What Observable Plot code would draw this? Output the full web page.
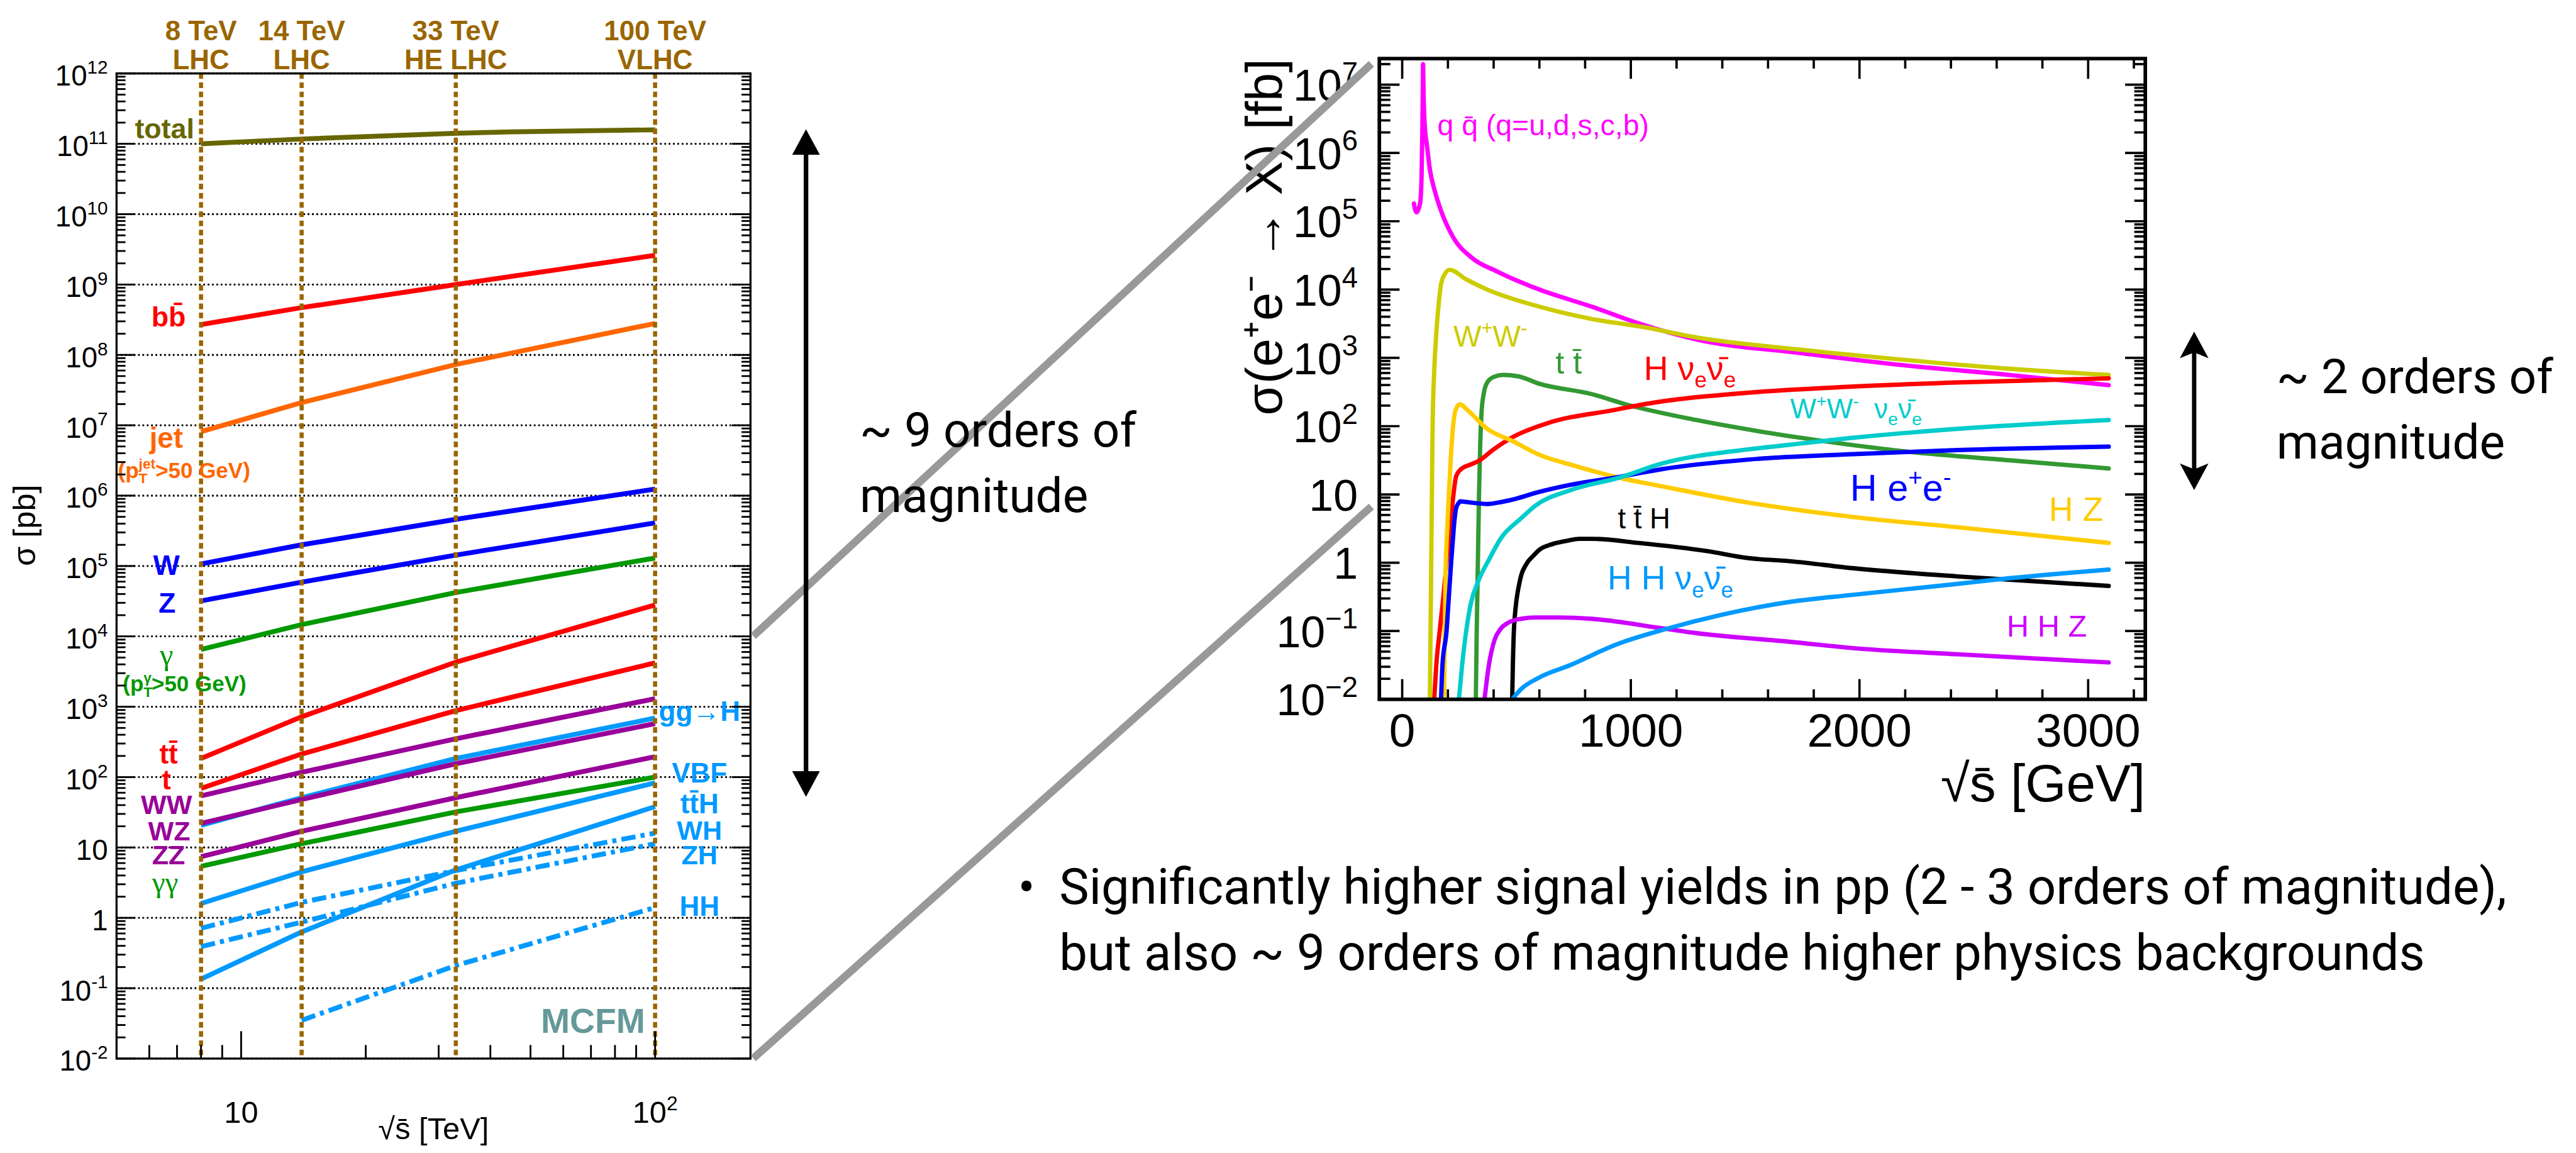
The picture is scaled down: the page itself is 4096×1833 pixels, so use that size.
<!DOCTYPE html>
<html>
<head>
<meta charset="utf-8">
<script src="https://cdn.jsdelivr.net/npm/d3@7"></script>
<script src="https://cdn.jsdelivr.net/npm/@observablehq/plot@0.6"></script>
<style>
html,body{margin:0;padding:0;background:#fff;}
#stage{position:relative;width:4096px;height:1833px;overflow:hidden;background:#fff;}
#stage > svg{position:absolute;left:0;top:0;}
</style>
</head>
<body>
<div id="stage"></div>
<script>
// ================= DATA: pp collisions (left panel), sigma in pb vs sqrt(s) in TeV =================
const energiesTeV = [8, 14, 33, 100];
const totalEnergiesTeV = [8, 14, 33, 45, 100];
const hhEnergiesTeV = [14, 33, 100];
const xsTotal = [1.0e11, 1.17e11, 1.41e11, 1.48e11, 1.58e11];
const xsBB = [2.7e8, 4.7e8, 1.0e9, 2.6e9];
const xsJet = [8.1e6, 2.1e7, 7.3e7, 2.8e8];
const xsW = [1.07e5, 2.0e5, 4.6e5, 1.24e6];
const xsZ = [3.2e4, 5.9e4, 1.43e5, 4.1e5];
const xsGamma = [6.5e3, 1.47e4, 4.2e4, 1.3e5];
const xsTT = [184, 720, 4.3e3, 2.8e4];
const xsT = [69, 213, 880, 4.2e3];
const xsWW = [54, 117, 351, 1.3e3];
const xsGGH = [20.7, 51, 184, 690];
const xsWZ = [22, 48, 155, 576];
const xsZZ = [7.4, 17, 51, 195];
const xsGamGam = [5.4, 11.3, 32, 100];
const xsVBF = [1.6, 4.5, 17, 83];
const xsTTH = [0.135, 0.63, 4.8, 38];
const xsWH = [0.71, 1.66, 4.7, 16];
const xsZH = [0.39, 0.87, 3.1, 11.3];
const xsHH = [0.035, 0.21, 1.4];

const ppDecadeTicks = [1e-2, 1e-1, 1, 10, 1e2, 1e3, 1e4, 1e5, 1e6, 1e7, 1e8, 1e9, 1e10, 1e11, 1e12];
const ppMajorXTicks = [10, 100];
const ppMinorXTicks = [6, 7, 8, 9, 20, 30, 40, 50, 60, 70, 80, 90];
const colliderLine1 = ["8 TeV", "14 TeV", "33 TeV", "100 TeV"];
const colliderLine2 = ["LHC", "LHC", "HE LHC", "VLHC"];

const ppLabelText = ["total", "bb\u0304", "jet", "(p_{T}^{jet}>50 GeV)", "W", "Z", "γ", "(p_{T}^{γ}>50 GeV)",
  "tt\u0304", "t", "WW", "WZ", "ZZ", "γγ", "gg→H", "VBF", "tt\u0304H", "WH", "ZH", "HH", "MCFM"];
const ppLabelX = [6.53, 6.68, 6.59, 7.28, 6.6, 6.62, 6.6, 7.3, 6.68, 6.6, 6.6, 6.7, 6.68, 6.55, 128, 128, 128, 128, 128, 128, 70.8];
const ppLabelY = [1.61e11, 3.39e8, 6.5e6, 2.24e6, 1e5, 2.9e4, 5.4e3, 2.07e3, 209, 90, 40, 16.7, 7.6, 3.2, 850, 112, 41, 17.2, 7.6, 1.43, 0.0336];

// ================= DATA: e+e- collisions (right panel), sigma in fb vs sqrt(s) in GeV =================
const eeQQx = [51, 62, 79, 85, 88, 90, 91, 94, 98, 109, 121, 143, 166, 224, 303, 418, 600, 829, 1057, 1286, 1742, 2199, 2656, 3090];
const eeQQy = [1.82e5, 1.35e5, 1.9e5, 5.0e5, 2.0e6, 7.9e6, 2.0e7, 6.3e6, 2.75e6, 1.23e6, 5.75e5, 2.75e5, 1.55e5, 5.75e4, 2.95e4, 1.82e4, 1.0e4, 5623, 3020, 1862, 1175, 776, 562, 398];
const eeWWx = [121, 127, 133, 140, 150, 160, 170, 189, 207, 280, 372, 600, 829, 1057, 1286, 1742, 2199, 2656, 3090];
const eeWWy = [0.01, 1, 100, 631, 2512, 6310, 1.2e4, 1.74e4, 1.95e4, 1.41e4, 1.0e4, 5623, 3715, 2818, 1995, 1318, 933, 692, 562];
const eeTTx = [322, 326, 331, 336, 341, 347, 358, 372, 400, 440, 507, 600, 829, 977, 1286, 1742, 2199, 2656, 3090];
const eeTTy = [0.01, 0.1, 1, 10, 50.1, 158, 316, 437, 525, 562, 537, 417, 295, 209, 123, 67.6, 42.7, 31.6, 24.0];
const eeHnnx = [140, 149, 164, 180, 194, 210, 224, 234, 244, 254, 300, 334, 400, 484, 634, 934, 1057, 1514, 1971, 2428, 3090];
const eeHnny = [0.01, 0.0316, 0.1, 0.316, 1, 3.16, 9.77, 17.4, 20.9, 22.9, 27.5, 30.9, 45.7, 69.2, 110, 174, 209, 309, 380, 437, 501];
const eeHZx = [183, 189, 197, 204, 212, 220, 234, 253, 284, 372, 484, 600, 734, 954, 1133, 1514, 1971, 2428, 3090];
const eeHZy = [0.01, 0.55, 3.16, 9.77, 31.6, 79.4, 174, 209, 174, 91.2, 60.3, 38.0, 27.5, 17.4, 13.2, 7.59, 4.68, 3.31, 1.95];
const eeHeex = [170, 176, 194, 204, 214, 222, 228, 236, 246, 254, 280, 374, 434, 500, 590, 734, 954, 1133, 1514, 1971, 2428, 3090];
const eeHeey = [0.01, 0.0316, 0.1, 0.316, 1, 2.24, 3.98, 6.31, 7.41, 7.94, 7.76, 7.24, 7.76, 8.71, 10.7, 13.8, 18.2, 23.4, 32.4, 38.9, 44.7, 50.1];
const eeWWnnx = [248, 262, 280, 300, 334, 380, 434, 520, 584, 734, 954, 1133, 1514, 1702, 1971, 2428, 3090];
const eeWWnny = [0.01, 0.0316, 0.1, 0.251, 0.55, 1.12, 2.34, 4.47, 6.92, 11.5, 17.8, 28.2, 45.7, 53.7, 67.6, 91.2, 123];
const eeTTHx = [481, 484, 490, 515, 543, 573, 600, 654, 720, 774, 830, 1034, 1334, 1514, 1702, 1971, 2428, 3090];
const eeTTHy = [0.01, 0.0316, 0.126, 0.55, 0.955, 1.26, 1.55, 1.86, 2.09, 2.24, 2.24, 1.95, 1.48, 1.17, 1.05, 0.832, 0.631, 0.457];
const eeHHZx = [360, 379, 404, 430, 463, 520, 584, 684, 829, 1133, 1286, 1702, 1971, 2428, 3090];
const eeHHZy = [0.01, 0.0316, 0.0741, 0.107, 0.132, 0.151, 0.158, 0.158, 0.151, 0.110, 0.0933, 0.0692, 0.0562, 0.0457, 0.0347];
const eeHHnnx = [481, 520, 600, 734, 934, 1153, 1400, 1702, 1971, 2428, 2589, 3090];
const eeHHnny = [0.01, 0.0141, 0.0209, 0.0316, 0.0631, 0.107, 0.174, 0.269, 0.339, 0.490, 0.562, 0.794];

const eeDecadeTicks = [1e-2, 1e-1, 1, 10, 1e2, 1e3, 1e4, 1e5, 1e6, 1e7];
const eeMajorXTicks = [0, 1000, 2000, 3000];
const eeMinorXTicks = [200, 400, 600, 800, 1200, 1400, 1600, 1800, 2200, 2400, 2600, 2800, 3200];

const eeLabelText = ["q q\u0304 (q=u,d,s,c,b)", "W^{+}W^{-}", "t t\u0304", "H ν_{e}ν\u0304_{e}", "W^{+}W^{-}  ν_{e}ν\u0304_{e}",
  "H e^{+}e^{-}", "H Z", "t t\u0304 H", "H H ν_{e}ν\u0304_{e}", "H H Z"];
const eeLabelX = [154, 224, 670, 1057, 1697, 1959, 2828, 943, 898, 2644];
const eeLabelY = [2.5e6, 2.0e3, 830, 690, 174, 12, 5.9, 4.3, 0.58, 0.115];

// connectors and arrows (values on the two y scales)
const connectorFromPb = [1e4, 1e-2];
const connectorToFb = [2.0e7, 6.6];
const ppArrowRange = [1.6e11, 52];
const eeArrowRange = [2.4e3, 11.5];

// ================= STYLES =================
const W = 5034, H = 2253;
const SANS = "'Liberation Sans', Arial, Helvetica, sans-serif";
const SERIF = "'Liberation Serif', 'Times New Roman', serif";
const SLIDE = "Roboto, 'Open Sans', sans-serif";

const ppSeries = [
  ["total", totalEnergiesTeV, xsTotal], ["bb", energiesTeV, xsBB], ["jet", energiesTeV, xsJet],
  ["W", energiesTeV, xsW], ["Z", energiesTeV, xsZ], ["gamma", energiesTeV, xsGamma],
  ["tt", energiesTeV, xsTT], ["t", energiesTeV, xsT], ["WW", energiesTeV, xsWW],
  ["ggH", energiesTeV, xsGGH], ["WZ", energiesTeV, xsWZ], ["ZZ", energiesTeV, xsZZ],
  ["gamgam", energiesTeV, xsGamGam], ["VBF", energiesTeV, xsVBF], ["ttH", energiesTeV, xsTTH],
  ["WH", energiesTeV, xsWH], ["ZH", energiesTeV, xsZH], ["HH", hhEnergiesTeV, xsHH]
];
const ppColor = {total: "#666600", bb: "#ff0000", jet: "#ff6600", W: "#0000ff", Z: "#0000ff", gamma: "#009900",
  tt: "#ff0000", t: "#ff0000", WW: "#990099", ggH: "#0099ff", WZ: "#990099", ZZ: "#990099", gamgam: "#009900",
  VBF: "#0099ff", ttH: "#0099ff", WH: "#0099ff", ZH: "#0099ff", HH: "#0099ff"};
const ppDash = {WH: "28,10,8,10", ZH: "28,10,8,10", HH: "28,10,8,10"};

const ppLabelColor = ["#666600", "#ff0000", "#ff6600", "#ff6600", "#0000ff", "#0000ff", "#009900", "#009900",
  "#ff0000", "#ff0000", "#990099", "#990099", "#990099", "#009900", "#0099ff", "#0099ff", "#0099ff", "#0099ff", "#0099ff", "#0099ff", "#669999"];
const ppLabelSize = [55, 55, 56, 43, 55, 55, 60, 43, 54, 54, 53, 53, 53, 58, 54, 54, 54, 53, 53, 54, 68];
const ppLabelFont = ppLabelText.map(t => t === "γ" || t === "γγ" ? SERIF : SANS);
const ppLabelWeight = ppLabelText.map(t => t === "γ" || t === "γγ" ? "normal" : "bold");

const eeSeries = [
  ["qq", eeQQx, eeQQy], ["WW", eeWWx, eeWWy], ["tt", eeTTx, eeTTy], ["Hnn", eeHnnx, eeHnny],
  ["HZ", eeHZx, eeHZy], ["Hee", eeHeex, eeHeey], ["WWnn", eeWWnnx, eeWWnny], ["ttH", eeTTHx, eeTTHy],
  ["HHZ", eeHHZx, eeHHZy], ["HHnn", eeHHnnx, eeHHnny]
];
const eeColor = {qq: "#ff00ff", WW: "#cccc00", tt: "#339933", Hnn: "#ff0000", HZ: "#ffcc00", Hee: "#0000ff",
  WWnn: "#00cccc", ttH: "#000000", HHZ: "#cc00ff", HHnn: "#0099ff"};
const eeLabelColor = ["#ff00ff", "#cccc00", "#339933", "#ff0000", "#00cccc", "#0000ff", "#ffcc00", "#000000", "#0099ff", "#cc00ff"];
const eeLabelSize = [57, 58, 62, 66, 54, 73, 66, 56, 66, 60];

// ================= HELPERS =================
function powerLabel(v, minus) {
  const e = Math.round(Math.log10(v));
  if (e === 0) return "1";
  if (e === 1) return "10";
  return "10^{" + (e < 0 ? minus + (-e) : e) + "}";
}
function minorLogTicks(decades, lo, hi) {
  const out = [];
  decades.forEach(d => { for (let k = 2; k <= 9; k++) { const v = k * d; if (v > lo && v < hi) out.push(v); } });
  return out;
}
function rows(xs, ys) { return xs.map((x, i) => ({x, y: ys[i]})); }

// simple markup -> tspans: ^{sup}, _{sub}
function richify(root) {
  root.querySelectorAll("text").forEach(t => {
    const raw = t.textContent;
    if (!/(\^|_)\{/.test(raw)) return;
    const fs = parseFloat(getComputedStyle(t).fontSize) || 10;
    while (t.firstChild) t.removeChild(t.firstChild);
    const re = /(\^|_)\{([^}]*)\}/g;
    let cur = 0, last = 0, m, prevSub = null;
    const add = (str, kind) => {
      if (!str) return;
      const ts = document.createElementNS("http://www.w3.org/2000/svg", "tspan");
      let target = 0;
      if (kind === "^") { target = -0.42 * fs; ts.setAttribute("font-size", 0.65 * fs); }
      else if (kind === "_") { target = 0.24 * fs; ts.setAttribute("font-size", 0.65 * fs); }
      const dy = target - cur;
      if (dy) ts.setAttribute("dy", dy);
      cur = target;
      ts.textContent = str;
      t.appendChild(ts);
      if (kind === "^" && prevSub) ts.setAttribute("dx", -prevSub.getComputedTextLength());
      prevSub = kind === "_" ? ts : null;
    };
    while ((m = re.exec(raw))) {
      add(raw.slice(last, m.index), "");
      add(m[2], m[1]);
      last = re.lastIndex;
    }
    add(raw.slice(last), "");
  });
}

const stage = document.getElementById("stage");
function mount(svg, bg) {
  svg.setAttribute("width", 4096);
  svg.setAttribute("height", 1833);
  svg.style.width = "4096px";
  svg.style.height = "1833px";
  svg.style.maxWidth = "none";
  svg.style.position = "absolute";
  svg.style.left = "0px";
  svg.style.top = "0px";
  svg.style.background = bg;
  svg.style.overflow = "visible";
  stage.appendChild(svg);
  richify(svg);
}

// ================= LEFT PANEL (pp) =================
const ppDecades = ppDecadeTicks;
const ppMinorY = minorLogTicks(ppDecades, 1e-2, 1e12);

const ppChart = Plot.plot({
  width: W, height: H,
  marginLeft: 227, marginRight: W - 1466, marginTop: 143, marginBottom: H - 2068,
  x: {type: "log", domain: [5, 170]},
  y: {type: "log", domain: [1e-2, 1e12]},
  style: {fontFamily: SANS},
  marks: [
    Plot.gridY(ppDecades, {stroke: "#000", strokeOpacity: 1, strokeWidth: 3.5, strokeDasharray: "3.5,5"}),
    ...ppSeries.map(([key, xs, ys]) => Plot.line(rows(xs, ys), {
      x: "x", y: "y", stroke: ppColor[key], strokeWidth: 9.5, strokeDasharray: ppDash[key], strokeLinecap: "butt"
    })),
    Plot.ruleX(energiesTeV, {stroke: "#996600", strokeWidth: 8, strokeDasharray: "11,7"}),
    Plot.text(energiesTeV, {x: d => d, text: (d, i) => colliderLine1[i], frameAnchor: "top", dy: -103,
      fill: "#996600", fontWeight: "bold", fontSize: 54, fontFamily: SANS}),
    Plot.text(energiesTeV, {x: d => d, text: (d, i) => colliderLine2[i], frameAnchor: "top", dy: -47,
      fill: "#996600", fontWeight: "bold", fontSize: 54, fontFamily: SANS}),
    ...ppLabelText.map((t, i) => Plot.text([t], {x: [ppLabelX[i]], y: [ppLabelY[i]], text: [t],
      fill: ppLabelColor[i], fontSize: ppLabelSize[i], fontWeight: ppLabelWeight[i], fontFamily: ppLabelFont[i]})),
    // y axis labels and ticks (inward, both sides)
    Plot.axisY(ppDecades, {anchor: "left", tickSize: 0, tickPadding: 17, tickFormat: v => powerLabel(v, "-"),
      fontSize: 56, fontFamily: SANS, label: null, dy: 6}),
    Plot.axisY(ppDecades, {anchor: "left", tickSize: 37, dx: 37, fill: "none", label: null, strokeWidth: 3.5}),
    Plot.axisY(ppMinorY, {anchor: "left", tickSize: 18, dx: 18, fill: "none", label: null, strokeWidth: 3.5}),
    Plot.axisY(ppDecades, {anchor: "right", tickSize: 37, dx: -37, fill: "none", label: null, strokeWidth: 3.5}),
    Plot.axisY(ppMinorY, {anchor: "right", tickSize: 18, dx: -18, fill: "none", label: null, strokeWidth: 3.5}),
    // x axis
    Plot.axisX(ppMajorXTicks, {anchor: "bottom", tickSize: 0, tickPadding: 83, tickFormat: v => powerLabel(v, "-"),
      fontSize: 60, fontFamily: SANS, label: null}),
    Plot.axisX(ppMajorXTicks, {anchor: "bottom", tickSize: 53, dy: -53, fill: "none", label: null, strokeWidth: 3.5}),
    Plot.axisX(ppMinorXTicks, {anchor: "bottom", tickSize: 26, dy: -26, fill: "none", label: null, strokeWidth: 3.5}),
    // titles
    Plot.text(["σ [pb]"], {frameAnchor: "left", rotate: -90, dx: -179, fontSize: 62, fontFamily: SANS, fill: "#000"}),
    Plot.text(["√s\u0304 [TeV]"], {frameAnchor: "bottom", dy: 157, fontSize: 60, fontFamily: SANS, fill: "#000"}),
    Plot.frame({stroke: "#000", strokeWidth: 4})
  ]
});
mount(ppChart, "white");

// ================= RIGHT PANEL (e+e-) =================
const eeMinorY = minorLogTicks(eeDecadeTicks, 1e-2, 2.4e7);
const eeChart = Plot.plot({
  width: W, height: H,
  marginLeft: 2695, marginRight: W - 4192, marginTop: 114, marginBottom: H - 1366,
  x: {domain: [-100, 3250]},
  y: {type: "log", domain: [1e-2, 2.41e7]},
  style: {fontFamily: SANS},
  marks: [
    ...eeSeries.map(([key, xs, ys]) => Plot.line(rows(xs, ys), {
      x: "x", y: "y", stroke: eeColor[key], strokeWidth: 8.5, curve: "monotone-x", clip: true
    })),
    ...eeLabelText.map((t, i) => Plot.text([t], {x: [eeLabelX[i]], y: [eeLabelY[i]], text: [t], textAnchor: "start",
      fill: eeLabelColor[i], fontSize: eeLabelSize[i], fontFamily: SANS})),
    Plot.axisY(eeDecadeTicks, {anchor: "left", tickSize: 0, tickPadding: 42, tickFormat: v => powerLabel(v, "−"),
      fontSize: 86, fontFamily: SANS, label: null, dy: 4}),
    Plot.axisY(eeDecadeTicks, {anchor: "left", tickSize: 40, dx: 40, fill: "none", label: null, strokeWidth: 4.5}),
    Plot.axisY(eeMinorY, {anchor: "left", tickSize: 22, dx: 22, fill: "none", label: null, strokeWidth: 4.5}),
    Plot.axisY(eeDecadeTicks, {anchor: "right", tickSize: 40, dx: -40, fill: "none", label: null, strokeWidth: 4.5}),
    Plot.axisY(eeMinorY, {anchor: "right", tickSize: 22, dx: -22, fill: "none", label: null, strokeWidth: 4.5}),
    Plot.axisX(eeMajorXTicks, {anchor: "bottom", tickSize: 0, tickPadding: 27, fontSize: 92, fontFamily: SANS,
      tickFormat: d => String(d), label: null}),
    Plot.axisX(eeMajorXTicks, {anchor: "bottom", tickSize: 39, dy: -39, fill: "none", label: null, strokeWidth: 4.5}),
    Plot.axisX(eeMinorXTicks, {anchor: "bottom", tickSize: 19, dy: -19, fill: "none", label: null, strokeWidth: 4.5}),
    Plot.axisX(eeMajorXTicks, {anchor: "top", tickSize: 39, dy: 39, fill: "none", label: null, strokeWidth: 4.5}),
    Plot.axisX(eeMinorXTicks, {anchor: "top", tickSize: 19, dy: 19, fill: "none", label: null, strokeWidth: 4.5}),
    Plot.text(["σ(e\u207Ae\u207B \u2192 X) [fb]"], {frameAnchor: "top-left", rotate: -90, textAnchor: "end", dx: -262,
      fontSize: 100, fontFamily: SANS, fill: "#000"}),
    Plot.text(["√s\u0304 [GeV]"], {frameAnchor: "bottom-right", textAnchor: "end", dy: 200,
      fontSize: 103, fontFamily: SANS, fill: "#000"}),
    Plot.frame({stroke: "#000", strokeWidth: 7})
  ]
});
mount(eeChart, "transparent");

// ================= OVERLAY: connectors, arrows, annotations =================
const ppX = ppChart.scale("x"), ppY = ppChart.scale("y");
const eeX = eeChart.scale("x"), eeY = eeChart.scale("y");

const ov = d3.create("svg").attr("viewBox", `0 0 ${W} ${H}`);
const ovNode = ov.node();

connectorFromPb.forEach((v, i) => {
  ov.append("line")
    .attr("x1", ppX.range[1] + 6).attr("y1", ppY.apply(v))
    .attr("x2", eeX.range[0] - 15).attr("y2", eeY.apply(connectorToFb[i]))
    .attr("stroke", "#999999").attr("stroke-width", 15);
});

function doubleArrow(x, yTop, yBot, lw, headW, headH, notch) {
  ov.append("line").attr("x1", x).attr("x2", x)
    .attr("y1", yTop + headH * 0.7).attr("y2", yBot - headH * 0.7)
    .attr("stroke", "#000").attr("stroke-width", lw);
  const n = notch ? headH * 0.78 : headH;
  ov.append("path").attr("fill", "#000")
    .attr("d", `M${x},${yTop} L${x - headW / 2},${yTop + headH} L${x},${yTop + n} L${x + headW / 2},${yTop + headH} Z`);
  ov.append("path").attr("fill", "#000")
    .attr("d", `M${x},${yBot} L${x - headW / 2},${yBot - headH} L${x},${yBot - n} L${x + headW / 2},${yBot - headH} Z`);
}
doubleArrow(1575, ppY.apply(ppArrowRange[0]), ppY.apply(ppArrowRange[1]), 9, 54, 50, false);
doubleArrow(4288, eeY.apply(eeArrowRange[0]), eeY.apply(eeArrowRange[1]), 8.5, 56, 52, true);

const note = (x, y, t, size) => ov.append("text").attr("x", x).attr("y", y).text(t)
  .attr("font-family", SLIDE).attr("font-size", size).attr("fill", "#000");
note(1680, 873, "~ 9 orders of", 94);
note(1680, 1000, "magnitude", 94);
note(4449, 768, "~ 2 orders of", 94);
note(4449, 896, "magnitude", 94);
ov.append("text").attr("x", 2006).attr("y", 1768).attr("text-anchor", "middle").text("•")
  .attr("font-family", SLIDE).attr("font-size", 98).attr("fill", "#000");
note(2070, 1766, "Significantly higher signal yields in pp (2 - 3 orders of magnitude),", 98);
note(2070, 1895, "but also ~ 9 orders of magnitude higher physics backgrounds", 98);

mount(ovNode, "transparent");
</script>
</body>
</html>
